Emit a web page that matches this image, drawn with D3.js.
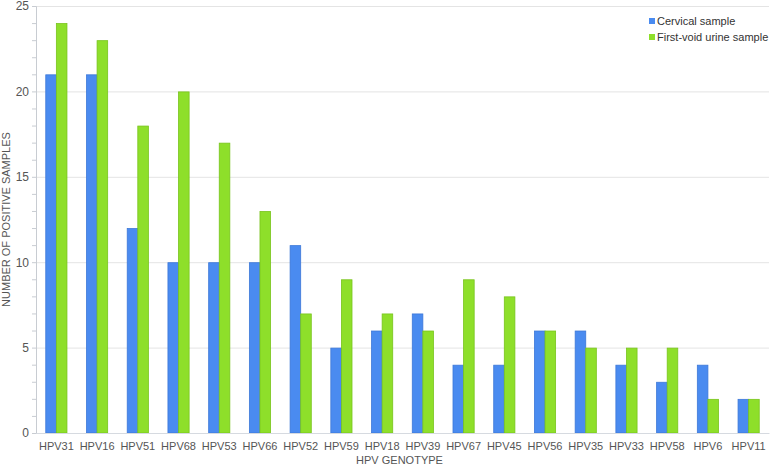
<!DOCTYPE html>
<html>
<head>
<meta charset="utf-8">
<script src="https://cdn.jsdelivr.net/npm/d3@7"></script>
<style>
  body { margin: 0; background: #fff; }
  svg { display: block; font-family: "Liberation Sans", Arial, sans-serif; }
</style>
</head>
<body>
<script>
var genotypes = ["HPV31","HPV16","HPV51","HPV68","HPV53","HPV66","HPV52","HPV59","HPV18","HPV39","HPV67","HPV45","HPV56","HPV35","HPV33","HPV58","HPV6","HPV11"];
var cervical = [21,21,12,10,10,10,11,5,6,7,4,4,6,6,4,3,4,2];
var urine = [24,23,18,20,17,13,7,9,7,6,9,8,6,5,5,5,2,2];
var seriesNames = ["Cervical sample", "First-void urine sample"];
var yTicks = [0,5,10,15,20,25];

var margin = {top: 6, right: 3, bottom: 34, left: 36},
    width = 772 - margin.left - margin.right,
    height = 467 - margin.top - margin.bottom;

var colors = ["#4a8bf0", "#8edf2a"];
var strokes = ["#3d78d8", "#78c41c"];

var svg = d3.select("body").append("svg")
    .attr("width", 772)
    .attr("height", 467)
  .append("g")
    .attr("transform", "translate(" + margin.left + "," + margin.top + ")");

var x = d3.scaleBand().domain(genotypes).range([0, width]);
var xs = d3.scaleBand().domain([0,1]).range([x.bandwidth()*0.24, x.bandwidth()*0.76]);
var y = d3.scaleLinear().domain([0,25]).range([height, 0]);

// gridlines
svg.append("g").selectAll("line")
  .data(yTicks)
  .enter().append("line")
    .attr("x1", 0).attr("x2", width)
    .attr("y1", function(d) { return y(d) + 0.5; })
    .attr("y2", function(d) { return y(d) + 0.5; })
    .style("stroke", "#e4e4e4");

// y axis with minor ticks
var yAxis = svg.append("g")
    .call(d3.axisLeft(y).tickValues(d3.range(0, 26, 1)).tickSize(4).tickFormat(function(d) { return d % 5 === 0 ? d : ""; }));
yAxis.select(".domain").style("stroke", "#c8ccd2");
yAxis.selectAll(".tick line").style("stroke", "#c8ccd2");
yAxis.selectAll(".tick text")
    .attr("x", -7)
    .style("font-size", "12px")
    .style("fill", "#555");

// bars
var groups = svg.append("g").selectAll("g")
  .data(genotypes)
  .enter().append("g")
    .attr("transform", function(d) { return "translate(" + x(d) + ",0)"; });

groups.selectAll("rect")
  .data(function(d, i) { return [cervical[i], urine[i]]; })
  .enter().append("rect")
    .attr("x", function(d, j) { return xs(j); })
    .attr("y", function(d) { return y(d) + 0.5; })
    .attr("width", xs.bandwidth())
    .attr("height", function(d) { return height - y(d) - 0.5; })
    .style("fill", function(d, j) { return colors[j]; })
    .style("stroke", function(d, j) { return strokes[j]; })
    .style("stroke-width", 0.8);

// x axis
var xAxis = svg.append("g")
    .attr("transform", "translate(0," + height + ")")
    .call(d3.axisBottom(x).tickSize(0).tickPadding(9));
xAxis.select(".domain").style("stroke", "#d6dae0");
xAxis.selectAll(".tick text")
    .style("font-size", "11px")
    .style("fill", "#555");

// axis titles
svg.append("text")
    .attr("x", width / 2 - 3)
    .attr("y", height + 31)
    .attr("text-anchor", "middle")
    .style("font-size", "11px")
    .style("fill", "#555")
    .text("HPV GENOTYPE");

svg.append("text")
    .attr("transform", "rotate(-90)")
    .attr("x", -height / 2)
    .attr("y", -26)
    .attr("text-anchor", "middle")
    .style("font-size", "11px")
    .style("fill", "#555")
    .text("NUMBER OF POSITIVE SAMPLES");

// legend
var legend = svg.append("g")
    .attr("transform", "translate(" + (649 - margin.left) + "," + (15 - margin.top) + ")");
seriesNames.forEach(function(name, i) {
  legend.append("rect")
      .attr("x", 0).attr("y", i * 16 + 3)
      .attr("width", 6).attr("height", 6)
      .style("fill", colors[i]);
  legend.append("text")
      .attr("x", 8).attr("y", i * 16 + 10)
      .style("font-size", "11px")
      .style("fill", "#333")
      .text(name);
});
</script>
</body>
</html>
